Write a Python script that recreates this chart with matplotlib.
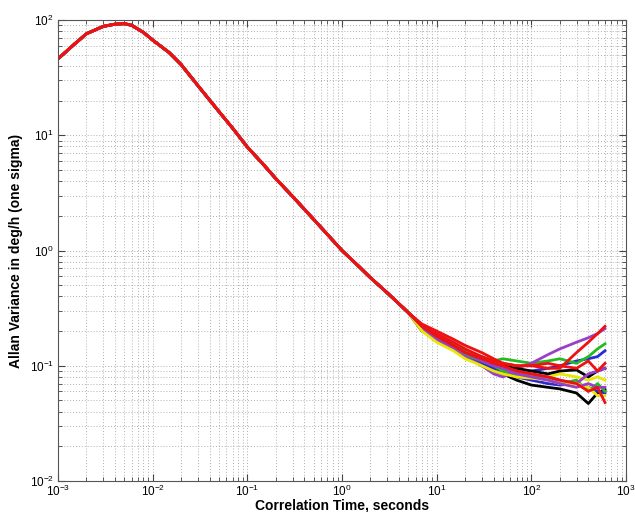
import matplotlib
matplotlib.use("Agg")
import matplotlib.pyplot as plt
from matplotlib.ticker import LogLocator, NullFormatter

plt.rcParams['font.family'] = ['Liberation Sans', 'DejaVu Sans']

# shared short-tau part (all runs coincide)
tau_base = [0.001, 0.0015, 0.002, 0.003, 0.004, 0.005, 0.006, 0.008, 0.01, 0.015,
            0.02, 0.03, 0.05, 0.07, 0.1, 0.15, 0.2, 0.3, 0.5, 0.7,
            1, 1.5, 2, 3, 5]
adev_base = [46, 62, 76, 88, 92, 93, 90, 78, 67, 52,
             41, 27, 16.1, 11.5, 7.9, 5.5, 4.2, 2.95, 1.87, 1.38,
             1.0, 0.73, 0.58, 0.43, 0.29]

# long-tau part, one list per run
tau_tail = [7, 10, 15, 20, 30, 40, 50, 70, 100, 150, 200, 300, 400, 500, 600]

tail_black_1  = [0.22, 0.17, 0.14, 0.12, 0.10, 0.09, 0.085, 0.075, 0.068, 0.065, 0.063, 0.058, 0.047, 0.058, 0.062]
tail_blue_1   = [0.21, 0.18, 0.15, 0.13, 0.115, 0.10, 0.095, 0.09, 0.09, 0.095, 0.10, 0.11, 0.115, 0.12, 0.135]
tail_green_1  = [0.20, 0.17, 0.15, 0.135, 0.12, 0.11, 0.115, 0.11, 0.105, 0.11, 0.115, 0.105, 0.12, 0.14, 0.155]
tail_purple_1 = [0.22, 0.18, 0.15, 0.13, 0.115, 0.10, 0.095, 0.095, 0.105, 0.125, 0.14, 0.16, 0.175, 0.19, 0.21]
tail_yellow_1 = [0.21, 0.17, 0.14, 0.12, 0.105, 0.10, 0.09, 0.085, 0.085, 0.08, 0.085, 0.08, 0.075, 0.08, 0.075]
tail_black_2  = [0.22, 0.18, 0.15, 0.125, 0.105, 0.10, 0.10, 0.095, 0.09, 0.085, 0.09, 0.092, 0.08, 0.09, 0.095]
tail_blue_2   = [0.20, 0.17, 0.14, 0.12, 0.105, 0.095, 0.09, 0.08, 0.075, 0.07, 0.068, 0.07, 0.065, 0.06, 0.058]
tail_green_2  = [0.21, 0.18, 0.15, 0.125, 0.11, 0.10, 0.09, 0.085, 0.08, 0.078, 0.07, 0.075, 0.06, 0.07, 0.06]
tail_purple_2 = [0.21, 0.17, 0.14, 0.12, 0.10, 0.085, 0.08, 0.09, 0.085, 0.08, 0.075, 0.07, 0.085, 0.09, 0.095]
tail_yellow_2 = [0.20, 0.16, 0.135, 0.115, 0.10, 0.09, 0.085, 0.08, 0.078, 0.075, 0.07, 0.07, 0.065, 0.055, 0.055]
tail_red_2    = [0.23, 0.20, 0.17, 0.15, 0.13, 0.115, 0.105, 0.10, 0.10, 0.105, 0.10, 0.095, 0.11, 0.09, 0.105]
tail_purple_3 = [0.22, 0.18, 0.15, 0.13, 0.11, 0.10, 0.095, 0.085, 0.08, 0.075, 0.07, 0.065, 0.07, 0.065, 0.065]
tail_red_3    = [0.22, 0.18, 0.15, 0.13, 0.115, 0.105, 0.10, 0.09, 0.085, 0.08, 0.075, 0.07, 0.06, 0.065, 0.048]
tail_red_1    = [0.22, 0.19, 0.16, 0.14, 0.12, 0.11, 0.105, 0.10, 0.10, 0.095, 0.095, 0.13, 0.16, 0.19, 0.22]

series = [
    ('#000000', tail_black_1), ('#2b2bd6', tail_blue_1), ('#22bb22', tail_green_1),
    ('#9a3fc8', tail_purple_1), ('#e8e800', tail_yellow_1), ('#000000', tail_black_2),
    ('#2b2bd6', tail_blue_2), ('#22bb22', tail_green_2), ('#9a3fc8', tail_purple_2),
    ('#e8e800', tail_yellow_2), ('#ee1111', tail_red_2), ('#9a3fc8', tail_purple_3),
    ('#ee1111', tail_red_3), ('#ee1111', tail_red_1),
]

fig = plt.figure(figsize=(6.35, 5.12), dpi=100)
ax = fig.add_axes([58/635, 1-481/512, (626-58)/635, (481-20)/512])

for color, tail in series:
    ax.plot(tau_base + tau_tail, adev_base + tail, color=color, lw=2.0)

ax.set_xscale('log')
ax.set_yscale('log')
ax.set_xlim(1e-3, 1e3)
ax.set_ylim(1e-2, 1e2)
ax.xaxis.set_major_locator(LogLocator(base=10, numticks=10))
ax.yaxis.set_major_locator(LogLocator(base=10, numticks=10))
ax.xaxis.set_minor_locator(LogLocator(base=10, subs=range(2, 10), numticks=100))
ax.yaxis.set_minor_locator(LogLocator(base=10, subs=range(2, 10), numticks=100))
ax.xaxis.set_minor_formatter(NullFormatter())
ax.yaxis.set_minor_formatter(NullFormatter())
ax.grid(True, which='both', linestyle=(0, (1, 2)), color='#b0b0b0', lw=0.7)
ax.tick_params(which='both', direction='in', top=True, right=True, labelsize=8.5, color='#444444')
ax.tick_params(which='major', length=5)
ax.tick_params(which='minor', length=3)
ax.tick_params(axis='x', pad=2)
ax.tick_params(axis='y', pad=3)
for s in ax.spines.values():
    s.set_color('#555555')

ax.set_xlabel('Correlation Time, seconds', fontsize=10, fontweight='bold', labelpad=0)
ax.set_ylabel('Allan Variance in deg/h (one sigma)', fontsize=10, fontweight='bold', labelpad=5)

fig.savefig('out.png', dpi=100)
